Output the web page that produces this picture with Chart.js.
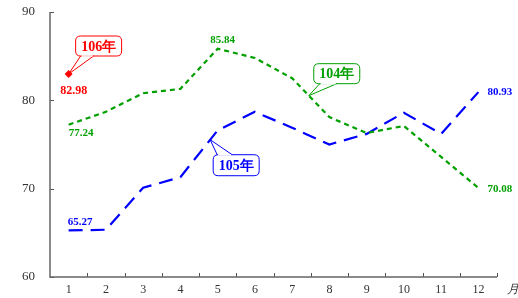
<!DOCTYPE html>
<html><head><meta charset="utf-8">
<script src="https://cdn.jsdelivr.net/npm/chart.js@4"></script>
<style>html,body{margin:0;padding:0;background:#fff}#wrap{width:518px;height:298px}</style>
</head><body><div id="wrap"><canvas id="c" width="518" height="298"></canvas></div>
<script>
const months = ['1','2','3','4','5','6','7','8','9','10','11','12'];
const yearLabels = ['104年','105年','106年'];
const y104 = [77.24, 78.7, 80.8, 81.3, 85.84, 84.8, 82.5, 78.1, 76.3, 77.1, 73.6, 70.08];
const y105 = [65.27, 65.35, 70.1, 71.3, 76.6, 78.7, 76.9, 75.0, 76.2, 78.6, 76.2, 80.93];
const y106 = [82.98, null, null, null, null, null, null, null, null, null, null, null];
const yTicks = [60, 70, 80, 90];

const SERIF = '"Liberation Serif","DejaVu Serif",serif';
const GREEN = '#00a000', BLUE = '#0000ff', RED = '#ff0000';

function roundRect(ctx, x, y, w, h, r) {
  ctx.beginPath();
  ctx.moveTo(x + r, y); ctx.lineTo(x + w - r, y); ctx.quadraticCurveTo(x + w, y, x + w, y + r);
  ctx.lineTo(x + w, y + h - r); ctx.quadraticCurveTo(x + w, y + h, x + w - r, y + h);
  ctx.lineTo(x + r, y + h); ctx.quadraticCurveTo(x, y + h, x, y + h - r);
  ctx.lineTo(x, y + r); ctx.quadraticCurveTo(x, y, x + r, y); ctx.closePath();
}
function callout(ctx, tip, box, p1, p2, color, text) {
  ctx.save();
  ctx.strokeStyle = color; ctx.lineWidth = 1; ctx.fillStyle = '#fff';
  roundRect(ctx, box.x, box.y, box.w, box.h, 5);
  ctx.fill(); ctx.stroke();
  ctx.beginPath(); ctx.moveTo(p1.x, p1.y); ctx.lineTo(tip.x, tip.y); ctx.lineTo(p2.x, p2.y);
  ctx.stroke();
  ctx.strokeStyle = '#fff'; ctx.lineWidth = 1.5;
  ctx.beginPath(); ctx.moveTo(p1.x + 1, p1.y); ctx.lineTo(p2.x - 1, p2.y); ctx.stroke();
  ctx.fillStyle = color; ctx.font = 'bold 14px ' + SERIF;
  ctx.textAlign = 'center'; ctx.textBaseline = 'middle';
  ctx.fillText(text, box.x + box.w / 2, box.y + box.h / 2 + 1);
  ctx.restore();
}

const deco = {
  id: 'deco',
  afterDraw(chart) {
    const ctx = chart.ctx, xs = chart.scales.x, ys = chart.scales.y, a = chart.chartArea;
    ctx.save();
    ctx.strokeStyle = '#555'; ctx.lineWidth = 1;
    yTicks.forEach(v => { const py = Math.round(ys.getPixelForValue(v)) + 0.5;
      ctx.beginPath(); ctx.moveTo(a.left, py); ctx.lineTo(a.left + 4, py); ctx.stroke(); });
    const step = (a.right - a.left) / months.length;
    for (let i = 1; i <= months.length; i++) { const px = Math.round(a.left + step * i) + 0.5;
      ctx.beginPath(); ctx.moveTo(px, a.bottom); ctx.lineTo(px, a.bottom - 4); ctx.stroke(); }
    ctx.strokeStyle = '#666'; ctx.lineWidth = 1.5;
    ctx.beginPath(); ctx.moveTo(a.left, a.top); ctx.lineTo(a.left, a.bottom); ctx.lineTo(a.right, a.bottom); ctx.stroke();
    ctx.fillStyle = '#333'; ctx.font = 'italic 12px ' + SERIF; ctx.textAlign = 'left'; ctx.textBaseline = 'middle';
    ctx.fillText('月', a.right + 10, a.bottom + 13);
    ctx.font = 'bold 11px ' + SERIF;
    const P = (i, v) => ({ x: xs.getPixelForValue(i), y: ys.getPixelForValue(v) });
    let p;
    ctx.fillStyle = GREEN;
    p = P(4, y104[4]); ctx.textAlign = 'center'; ctx.textBaseline = 'bottom'; ctx.fillText(y104[4].toFixed(2), p.x + 5, p.y - 3);
    p = P(0, y104[0]); ctx.textAlign = 'left'; ctx.textBaseline = 'top'; ctx.fillText(y104[0].toFixed(2), p.x, p.y + 3);
    p = P(11, y104[11]); ctx.textAlign = 'left'; ctx.textBaseline = 'middle'; ctx.fillText(y104[11].toFixed(2), p.x + 9, p.y + 1);
    ctx.fillStyle = BLUE;
    p = P(0, y105[0]); ctx.textAlign = 'left'; ctx.textBaseline = 'bottom'; ctx.fillText(y105[0].toFixed(2), p.x - 1, p.y - 3);
    p = P(11, y105[11]); ctx.textAlign = 'left'; ctx.textBaseline = 'middle'; ctx.fillText(y105[11].toFixed(2), p.x + 9, p.y);
    ctx.fillStyle = RED;
    p = P(0, y106[0]); ctx.textAlign = 'center'; ctx.textBaseline = 'top'; ctx.font = 'bold 12px ' + SERIF;
    ctx.fillText(y106[0].toFixed(2), p.x + 5, p.y + 11);
    ctx.restore();
    const r = P(0, y106[0]);
    callout(ctx, { x: r.x, y: r.y }, { x: r.x + 7, y: r.y - 38, w: 46, h: 20 },
      { x: r.x + 12, y: r.y - 18 }, { x: r.x + 25, y: r.y - 18 }, RED, yearLabels[2]);
    const g = { x: (xs.getPixelForValue(6) + xs.getPixelForValue(7)) / 2 - 2, y: ys.getPixelForValue((y104[6] + y104[7]) / 2) - 2 };
    callout(ctx, g, { x: g.x + 5, y: g.y - 32, w: 46, h: 20 },
      { x: g.x + 11, y: g.y - 12 }, { x: g.x + 28, y: g.y - 12 }, GREEN, yearLabels[0]);
    const b = { x: (xs.getPixelForValue(4) * 0.8 + xs.getPixelForValue(3) * 0.2), y: ys.getPixelForValue(y105[4] * 0.8 + y105[3] * 0.2) };
    callout(ctx, b, { x: b.x + 3, y: b.y + 15, w: 46, h: 21 },
      { x: b.x + 7, y: b.y + 15 }, { x: b.x + 22, y: b.y + 15 }, BLUE, yearLabels[1]);
  }
};

new Chart(document.getElementById('c'), {
  type: 'line',
  data: {
    labels: months,
    datasets: [
      { label: yearLabels[0], data: y104, borderColor: GREEN, borderWidth: 2.2, borderDash: [5, 4], pointRadius: 0, fill: false, tension: 0 },
      { label: yearLabels[1], data: y105, borderColor: BLUE, borderWidth: 2.2, borderDash: [14, 8], pointRadius: 0, fill: false, tension: 0 },
      { label: yearLabels[2], data: y106, borderColor: RED, backgroundColor: RED, pointStyle: 'rectRot', pointRadius: 4, pointBorderWidth: 0, showLine: false }
    ]
  },
  options: {
    responsive: false, animation: false, events: [],
    layout: { padding: { top: 12, right: 21, left: 0, bottom: 2 } },
    plugins: { legend: { display: false }, tooltip: { enabled: false }, title: { display: false } },
    scales: {
      x: {
        offset: true,
        grid: { display: false, drawTicks: false },
        border: { display: false },
        ticks: { color: '#333', font: { family: SERIF, size: 12 }, padding: 6, maxRotation: 0, autoSkip: false },
        afterFit: s => { s.height = 19; s.paddingLeft = 0; s.paddingRight = 0; }
      },
      y: {
        min: 60, max: 90,
        afterBuildTicks: s => { s.ticks = yTicks.map(v => ({ value: v })); },
        grid: { display: false, drawTicks: false },
        border: { display: false },
        ticks: { color: '#333', font: { family: SERIF, size: 13 }, padding: 15 },
        afterFit: s => { s.width = 50; s.paddingTop = 0; s.paddingBottom = 0; }
      }
    }
  },
  plugins: [deco]
});
</script>
</body></html>
